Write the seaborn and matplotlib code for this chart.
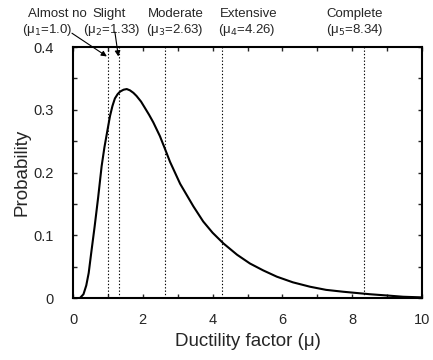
import matplotlib
matplotlib.use("Agg")
import matplotlib.pyplot as plt
import seaborn as sns
import pandas as pd
from matplotlib.ticker import MultipleLocator

# Values
mu = [0.20, 0.30, 0.38, 0.45, 0.52, 0.62, 0.72, 0.82, 0.90, 0.97, 1.06, 1.13,
      1.20, 1.28, 1.35, 1.45, 1.54, 1.63, 1.73, 1.82, 1.95, 2.06, 2.18, 2.30,
      2.49, 2.64, 2.78, 3.07, 3.45, 3.73, 4.00, 4.31, 4.70, 5.07, 5.45, 5.84,
      6.30, 6.79, 7.25, 7.74, 8.51, 9.00, 9.46, 10.0]
prob = [0.0, 0.006, 0.020, 0.040, 0.071, 0.114, 0.160, 0.210, 0.240, 0.262, 0.290, 0.306,
        0.318, 0.325, 0.329, 0.332, 0.333, 0.331, 0.327, 0.322, 0.313, 0.303, 0.292, 0.280,
        0.258, 0.237, 0.217, 0.182, 0.146, 0.122, 0.104, 0.087, 0.069, 0.055, 0.044, 0.034,
        0.025, 0.018, 0.013, 0.010, 0.006, 0.004, 0.002, 0.001]

state_names = ["Almost no", "Slight", "Moderate", "Extensive", "Complete"]
state_mu = [1.0, 1.33, 2.63, 4.26, 8.34]
state_sub = ["1", "2", "3", "4", "5"]
state_val = ["1.0", "1.33", "2.63", "4.26", "8.34"]

x_ticks = [0, 2, 4, 6, 8, 10]
y_ticks = [0, 0.1, 0.2, 0.3, 0.4]
y_tick_labels = ["0", "0.1", "0.2", "0.3", "0.4"]

sns.set_style("ticks")
plt.rcParams['font.family'] = ['Liberation Sans', 'DejaVu Sans']

fig = plt.figure(figsize=(4.33, 3.6), dpi=100)
ax = fig.add_axes([0.1686, 0.1722, 0.806, 0.6972])

df = pd.DataFrame({"mu": mu, "p": prob})
sns.lineplot(data=df, x="mu", y="p", ax=ax, color="black", linewidth=1.5)

for m in state_mu:
    ax.axvline(m, color="black", linestyle=(0, (1.2, 1.8)), linewidth=0.8)

ax.set_xlim(0, 10)
ax.set_ylim(0, 0.4)
ax.set_xticks(x_ticks)
ax.set_yticks(y_ticks)
ax.set_yticklabels(y_tick_labels)
ax.xaxis.set_minor_locator(MultipleLocator(1))
ax.yaxis.set_minor_locator(MultipleLocator(0.05))
ax.tick_params(which="both", direction="in", top=True, right=True, width=1)
ax.tick_params(which="major", length=3, labelsize=10.5)
ax.tick_params(which="minor", length=3)
ax.tick_params(axis="y", which="major", pad=14)
ax.tick_params(axis="x", which="major", pad=11)
for s in ax.spines.values():
    s.set_linewidth(1.5)
    s.set_color("black")
ax.set_xlabel("Ductility factor (\u03bc)", fontsize=13.5, labelpad=4)
ax.set_ylabel("Probability", fontsize=13.5, labelpad=2)

name_x = [-0.44, 1.03, 2.95, 5.04, 8.08]
val_x = [-0.74, 1.11, 2.92, 4.98, 8.08]
for nm, nx, vx, sub, val in zip(state_names, name_x, val_x, state_sub, state_val):
    ax.text(nx, 0.4526, nm, ha="center", va="center", fontsize=9.5, clip_on=False)
    ax.text(vx, 0.427, "(\u03bc$_{%s}$=%s)" % (sub, val), ha="center", va="center",
            fontsize=9.5, clip_on=False)

ax.annotate("", xy=(0.97, 0.385), xytext=(-0.03, 0.422),
            arrowprops=dict(arrowstyle="-|>", color="black", lw=0.8,
                            mutation_scale=8, shrinkA=0, shrinkB=0),
            annotation_clip=False)
ax.annotate("", xy=(1.30, 0.385), xytext=(1.20, 0.424),
            arrowprops=dict(arrowstyle="-|>", color="black", lw=0.8,
                            mutation_scale=8, shrinkA=0, shrinkB=0),
            annotation_clip=False)

fig.savefig("out.png", dpi=100)
